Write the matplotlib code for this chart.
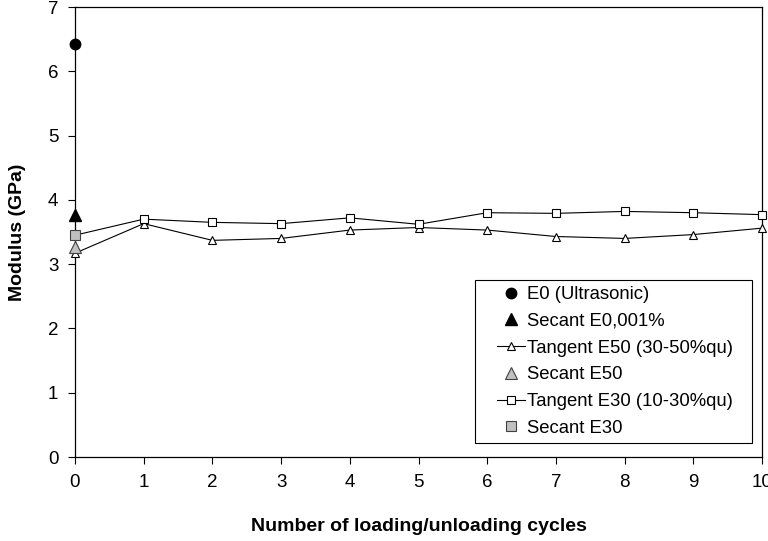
import matplotlib
matplotlib.use("Agg")
import matplotlib.pyplot as plt
from matplotlib.patches import Rectangle

plt.rcParams['font.family'] = ['Liberation Sans', 'DejaVu Sans']

# valores
ciclos = list(range(11))
tangent_e50 = [3.17, 3.63, 3.37, 3.40, 3.53, 3.57, 3.53, 3.43, 3.40, 3.46, 3.56]
tangent_e30 = [3.45, 3.70, 3.65, 3.63, 3.72, 3.62, 3.80, 3.79, 3.82, 3.80, 3.77]
e0_ultrasonic = [6.43]
secant_e0001 = [3.77]
secant_e50 = [3.27]
secant_e30 = [3.45]
x0 = [0]

fig = plt.figure(figsize=(7.68, 5.41), dpi=100)
ax = fig.add_axes([75/768, 1 - 457/541, 687/768, 450/541])

ax.plot(x0, e0_ultrasonic, 'o', color='black', ms=7.5, label='E0 (Ultrasonic)', clip_on=False, zorder=5)
ax.plot(x0, secant_e0001, '^', color='black', ms=8, label='Secant E0,001%', clip_on=False, zorder=5)
ax.plot(ciclos, tangent_e50, '-^', color='black', lw=0.8, ms=6, mfc='white', mec='black',
        mew=0.8, label='Tangent E50 (30-50%qu)', clip_on=False, zorder=4)
ax.plot(x0, secant_e50, '^', color='#c0c0c0', mec='#404040', mew=0.8, ms=9,
        label='Secant E50', clip_on=False, zorder=5)
ax.plot(ciclos, tangent_e30, '-s', color='black', lw=0.8, ms=5.5, mfc='white', mec='black',
        mew=0.8, label='Tangent E30 (10-30%qu)', clip_on=False, zorder=4)
ax.plot(x0, secant_e30, 's', color='#c0c0c0', mec='#404040', mew=0.8, ms=7.5,
        label='Secant E30', clip_on=False, zorder=6)

ax.set_xlim(0, 10)
ax.set_ylim(0, 7)
ax.set_xticks(range(11))
ax.set_yticks(range(8))
ax.tick_params(direction='out', length=5, width=0.8, labelsize=13.5, pad=7)
for s in ax.spines.values():
    s.set_linewidth(0.9)

ax.set_xlabel('Number of loading/unloading cycles', fontsize=14, fontweight='bold', labelpad=20)
ax.set_ylabel('Modulus (GPa)', fontsize=14, fontweight='bold', labelpad=16)

# marco de la leyenda dibujado aparte (más relleno a los lados)
ax.add_patch(Rectangle(((475 - 75) / 687, (457 - 443) / 450), (752 - 475) / 687, (443 - 280) / 450,
                       transform=ax.transAxes, facecolor='white', edgecolor='black', lw=0.8, zorder=7))
leg = ax.legend(loc='upper left', bbox_to_anchor=((497 - 75) / 687, (457 - 286) / 450), fontsize=13.3,
                frameon=False, handlelength=1.5, handletextpad=0.12, borderpad=0,
                labelspacing=0.53, borderaxespad=0)
leg.set_zorder(8)

fig.savefig('out.png', dpi=100)
